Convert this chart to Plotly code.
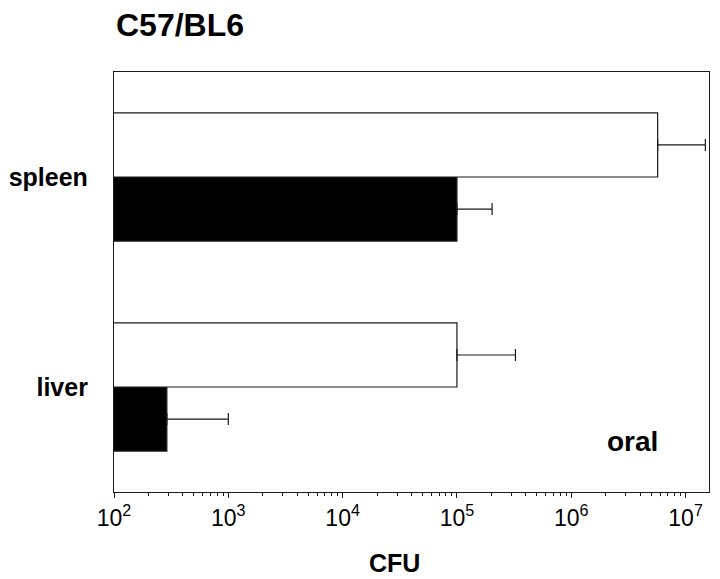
import plotly.graph_objects as go

# Data
categories = ["liver", "spleen"]
white_values = [1.0e5, 5.7e6]      # liver, spleen
white_err_top = [3.25e5, 1.49e7]
black_values = [2.9e2, 1.0e5]
black_err_top = [1.0e3, 2.03e5]
tick_vals = [1e2, 1e3, 1e4, 1e5, 1e6, 1e7]
tick_text = ["10<sup>2</sup>", "10<sup>3</sup>", "10<sup>4</sup>", "10<sup>5</sup>", "10<sup>6</sup>", "10<sup>7</sup>"]

FONT = "Liberation Sans, Arial, sans-serif"
INK = "#1a1a1a"

fig = go.Figure()
fig.add_trace(go.Bar(
    y=categories, x=black_values, orientation="h",
    marker=dict(color="black", line=dict(color=INK, width=1.2)),
    error_x=dict(type="data", symmetric=False,
                 array=[t - v for t, v in zip(black_err_top, black_values)],
                 arrayminus=[0, 0], color=INK, thickness=1.2, width=6),
    showlegend=False,
))
fig.add_trace(go.Bar(
    y=categories, x=white_values, orientation="h",
    marker=dict(color="white", line=dict(color=INK, width=1.2)),
    error_x=dict(type="data", symmetric=False,
                 array=[t - v for t, v in zip(white_err_top, white_values)],
                 arrayminus=[0, 0], color=INK, thickness=1.2, width=6),
    showlegend=False,
))

fig.update_layout(
    width=720, height=579,
    margin=dict(l=106, r=19, t=64, b=95),
    paper_bgcolor="white", plot_bgcolor="white",
    barmode="group", bargap=0.39, bargroupgap=0,
    font=dict(family=FONT, color="black"),
    xaxis=dict(
        type="log", range=[2, 7.205], automargin=False,
        tickvals=tick_vals, ticktext=tick_text,
        ticks="outside", ticklen=5, tickwidth=1.2, tickcolor=INK,
        tickfont=dict(size=23, family=FONT, color="black"),
        minor=dict(ticks="outside", ticklen=3, tickwidth=1, tickcolor=INK, dtick="D1", showgrid=False),
        showline=True, linecolor=INK, linewidth=1.2, mirror=True,
        showgrid=False, zeroline=False,
    ),
    yaxis=dict(
        categoryorder="array", categoryarray=categories,
        range=[-0.5, 1.5], automargin=False,
        tickfont=dict(size=25, family=FONT, color="black"),
        ticks="", ticklabelstandoff=20,
        tickvals=categories, ticktext=["<b>liver</b>", "<b>spleen</b>"],
        showline=True, linecolor=INK, linewidth=1.2, mirror=True,
        showgrid=False, zeroline=False,
    ),
    annotations=[
        dict(text="<b>C57/BL6</b>", xref="paper", yref="paper", x=0.0, y=1.112,
             xanchor="left", yanchor="middle", showarrow=False,
             font=dict(size=32, family=FONT, color="black")),
        dict(text="<b>oral</b>", xref="paper", yref="paper", x=0.872, y=0.12,
             xanchor="center", yanchor="middle", showarrow=False,
             font=dict(size=28, family=FONT, color="black")),
        dict(text="<b>CFU</b>", xref="paper", yref="paper", x=0.472, y=-0.168,
             xanchor="center", yanchor="middle", showarrow=False,
             font=dict(size=25, family=FONT, color="black")),
    ],
)

fig.write_html("out.html")
